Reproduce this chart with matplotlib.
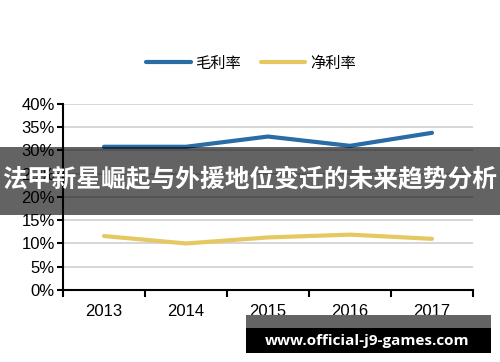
import matplotlib.pyplot as plt
from matplotlib.patches import Rectangle
from matplotlib.ticker import FixedLocator

years = ["2013", "2014", "2015", "2016", "2017"]
gross_margin = [0.308, 0.308, 0.330, 0.310, 0.338]
net_margin = [0.116, 0.100, 0.113, 0.119, 0.110]
y_ticks = [0, 0.05, 0.10, 0.15, 0.20, 0.25, 0.30, 0.35, 0.40]
y_labels = ["0%", "5%", "10%", "15%", "20%", "25%", "30%", "35%", "40%"]

BLUE = "#2A6CA5"
YELLOW = "#E5C862"
CJK = ["Noto Sans CJK SC", "DejaVu Sans"]

fig = plt.figure(figsize=(5, 3.62), dpi=100, facecolor="white")
ax = fig.add_axes([0.126, 0.199, 0.82, 0.5137])

x = list(range(len(years)))
ax.plot(x, gross_margin, color=BLUE, lw=3, solid_capstyle="round", label="毛利率", zorder=3)
ax.plot(x, net_margin, color=YELLOW, lw=3, solid_capstyle="round", label="净利率", zorder=3)

ax.set_xlim(-0.5, len(years) - 0.5)
ax.set_ylim(0, 0.40)
ax.set_yticks(y_ticks)
ax.set_yticklabels(y_labels, fontsize=12, family="Liberation Sans")
ax.set_xticks(x)
ax.set_xticklabels(years, fontsize=12, family="Liberation Sans")
ax.xaxis.set_minor_locator(FixedLocator([i - 0.5 for i in range(len(years) + 1)]))
ax.tick_params(axis="x", which="major", length=0, pad=10)
ax.tick_params(axis="x", which="minor", length=5, width=1.5, direction="out")
ax.tick_params(axis="y", length=4, width=1.5, direction="out", pad=2)

for y in y_ticks[1:]:
    ax.axhline(y, color="#D3D3D3", lw=1.3, zorder=1)
for s in ["top", "right"]:
    ax.spines[s].set_visible(False)
for s in ["left", "bottom"]:
    ax.spines[s].set_linewidth(1.5)
    ax.spines[s].set_zorder(4)

leg = ax.legend(loc="center", bbox_to_anchor=(0.502, 0.826), bbox_transform=fig.transFigure,
                ncol=2, frameon=False, handlelength=2.9, handletextpad=0.3,
                columnspacing=1.3, prop={"family": CJK, "size": 11})

# dark overlay banner
fig.add_artist(Rectangle((0, 0.406), 1, 0.188, transform=fig.transFigure,
                         facecolor="black", alpha=0.61, edgecolor="none", zorder=10))
fig.text(0.5, 0.503, "法甲新星崛起与外援地位变迁的未来趋势分析", ha="center", va="center",
         color="white", fontsize=17.8, fontweight="bold", family=CJK, zorder=11)

# watermark box
fig.add_artist(Rectangle((0.492, 0.094), 0.49, 0.036, transform=fig.transFigure,
                         facecolor="#646464", edgecolor="none", zorder=10))
fig.add_artist(Rectangle((0.492, 0.025), 0.49, 0.069, transform=fig.transFigure,
                         facecolor="black", edgecolor="none", zorder=10))
fig.text(0.735, 0.058, "www.official-j9-games.com", ha="center", va="center",
         color="white", fontsize=11, fontweight="bold", family="Open Sans", zorder=11)

fig.savefig("out.png", dpi=100, facecolor="white")
